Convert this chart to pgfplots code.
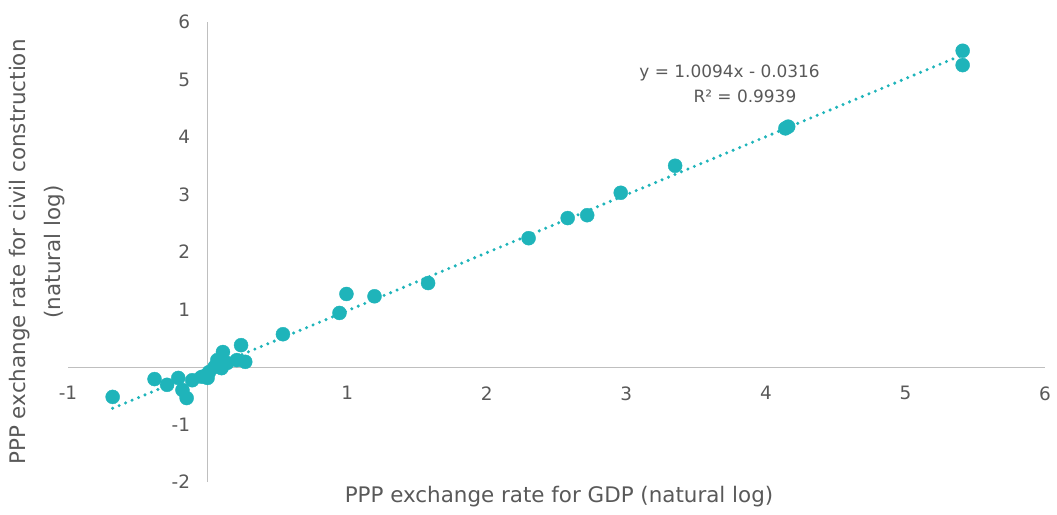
\documentclass[border=0pt]{standalone}
\usepackage{pgfplots}
\pgfplotsset{compat=1.18}
\usepackage{fontspec}
\setmainfont{DejaVu Sans}
\definecolor{teal1}{RGB}{31,180,186}
\definecolor{axgray}{RGB}{191,191,191}
\definecolor{txtgray}{RGB}{89,89,89}
\begin{document}
\begin{tikzpicture}
\useasboundingbox (0,0) rectangle (1057bp,515bp);
\begin{axis}[
  at={(68bp,33bp)}, anchor=south west,
  scale only axis, width=977bp, height=460bp,
  xmin=-1, xmax=6, ymin=-2, ymax=6,
  axis lines=middle,
  axis line style={axgray, line width=1bp, -},
  xtick={-1,0,1,2,3,4,5,6},
  xticklabels={-1,0,1,2,3,4,5,6},
  ytick={-2,-1,0,1,2,3,4,5,6},
  yticklabels={-2,-1,0,1,2,3,4,5,6},
  major tick length=0pt,
  tick label style={font=\fontsize{18.5}{22}\selectfont, text=txtgray},
  xticklabel style={anchor=north, yshift=-16bp},
  yticklabel style={anchor=east, xshift=-14bp},
  clip=false,
]
\addplot[teal1, line width=3.4bp, line cap=round, dash pattern=on 0pt off 7bp, no marks]
  coordinates {(-0.68,-0.718) (5.41,5.429)};
\addplot[only marks, mark=*, mark size=7bp, mark options={fill=teal1, draw=teal1}]
  coordinates {
  (-0.68,-0.52)
  (-0.38,-0.21) (-0.29,-0.31) (-0.21,-0.19) (-0.18,-0.40) (-0.15,-0.54)
  (-0.11,-0.23) (-0.04,-0.17) (0.00,-0.19) (0.01,-0.09) (0.05,0.00)
  (0.07,0.12) (0.11,0.26) (0.10,-0.02) (0.14,0.07) (0.21,0.12)
  (0.27,0.09) (0.24,0.38)
  (0.54,0.57) (0.945,0.94) (0.995,1.27) (1.196,1.23) (1.58,1.46)
  (2.30,2.24) (2.58,2.59) (2.72,2.64) (2.96,3.03) (3.35,3.50)
  (4.14,4.15) (4.16,4.18)
  (5.41,5.50) (5.41,5.25)
  };
\node[font=\fontsize{17}{20}\selectfont, text=txtgray] at (axis cs:3.74,5.11) {y = 1.0094x - 0.0316};
\node[font=\fontsize{17}{20}\selectfont, text=txtgray] at (axis cs:3.85,4.70) {R² = 0.9939};
\end{axis}
\node[font=\fontsize{21.5}{25}\selectfont, text=txtgray] at (559bp,18bp) {PPP exchange rate for GDP (natural log)};
\node[font=\fontsize{21.5}{35}\selectfont, text=txtgray, rotate=90, align=center] at (37bp,263bp) {PPP exchange rate for civil construction\\(natural log)};
\end{tikzpicture}
\end{document}
